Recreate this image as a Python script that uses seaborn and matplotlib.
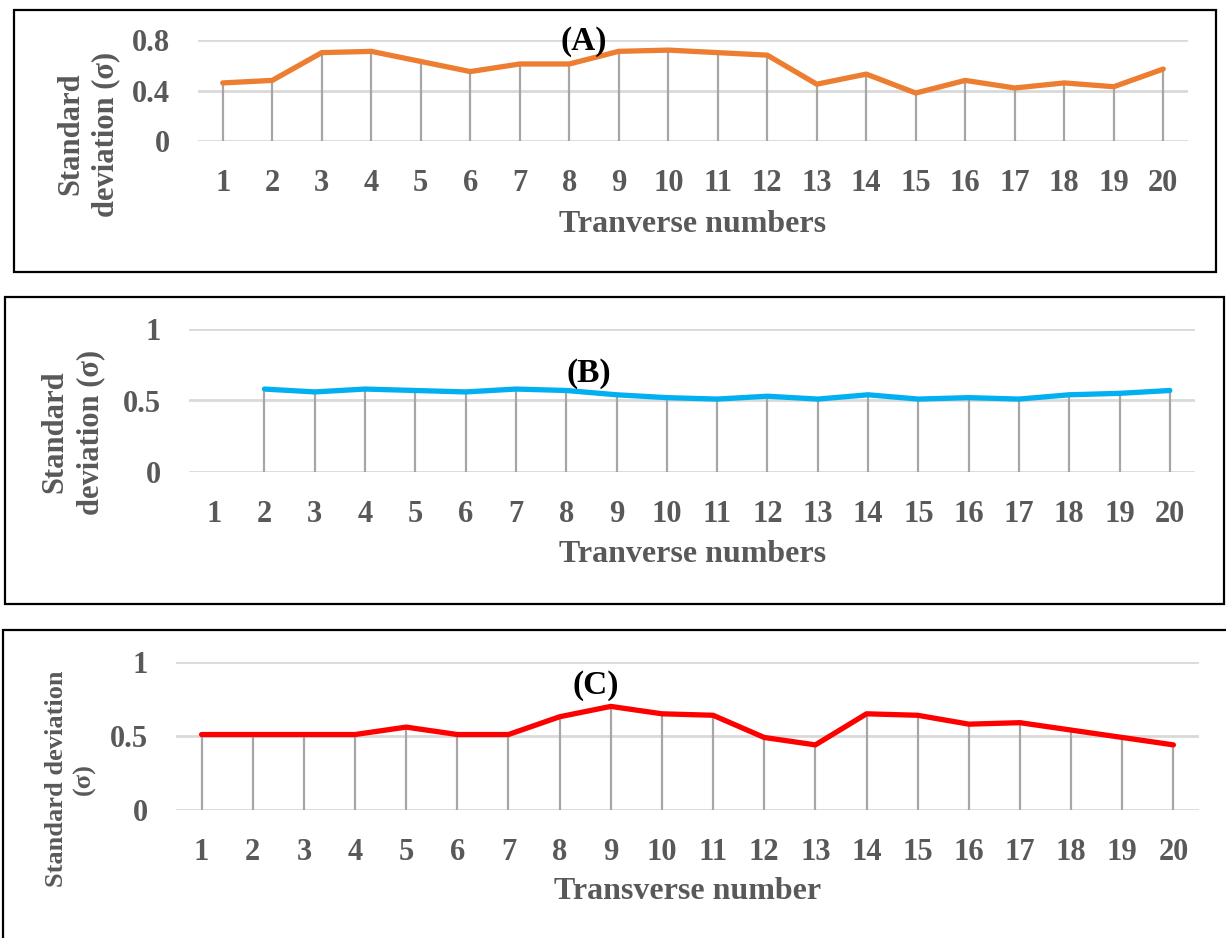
import numpy as np
import pandas as pd
import matplotlib
matplotlib.use("Agg")
import matplotlib.pyplot as plt
import seaborn as sns
from matplotlib.patches import Rectangle

""" DATA """

transects = list(range(1, 21))
sd_a = [0.46, 0.48, 0.70, 0.71, 0.63, 0.55, 0.61, 0.61, 0.71, 0.72,
        0.70, 0.68, 0.45, 0.53, 0.38, 0.48, 0.42, 0.46, 0.43, 0.57]
sd_b = [np.nan, 0.58, 0.56, 0.58, 0.57, 0.56, 0.58, 0.57, 0.54, 0.52,
        0.51, 0.53, 0.51, 0.54, 0.51, 0.52, 0.51, 0.54, 0.55, 0.57]
sd_c = [0.51, 0.51, 0.51, 0.51, 0.56, 0.51, 0.51, 0.63, 0.70, 0.65,
        0.64, 0.49, 0.44, 0.65, 0.64, 0.58, 0.59, 0.54, 0.49, 0.44]

yticks_a = [0, 0.4, 0.8]
ylabels_a = ['0', '0.4', '0.8']
yticks_bc = [0, 0.5, 1]
ylabels_bc = ['0', '0.5', '1']

""" STYLE """

sns.set_style("white")
plt.rcParams['font.family'] = ['Liberation Serif', 'DejaVu Serif']
plt.rcParams['font.weight'] = 'bold'
grey_txt = '#595959'
W, H = 1226, 938

fig = plt.figure(figsize=(W / 100, H / 100), dpi=100)


def px_axes(l, r, t, b):
    return fig.add_axes([l / W, 1 - b / H, (r - l) / W, (b - t) / H])


def panel(ax, vals, color, ylim, yticks, ylabels, tag, tag_xy):
    df = pd.DataFrame({'x': transects, 'y': vals})
    ax.vlines(df['x'], 0, df['y'], color='#A6A6A6', lw=1.6, zorder=2)
    sns.lineplot(data=df, x='x', y='y', ax=ax, color=color, lw=3.8,
                 zorder=3, solid_capstyle='round')
    ax.set_xlim(0.5, 20.5)
    ax.set_ylim(*ylim)
    ax.set_yticks(yticks)
    ax.set_yticklabels(ylabels)
    ax.set_xticks(transects)
    ax.set_xticklabels([str(t) for t in transects])
    ax.yaxis.grid(True, color='#D9D9D9', lw=2)
    ax.xaxis.grid(False)
    ax.set_axisbelow(True)
    for s in ax.spines.values():
        s.set_visible(False)
    ax.tick_params(axis='both', length=0, labelsize=22, labelcolor=grey_txt)
    ax.tick_params(axis='x', pad=20)
    ax.tick_params(axis='y', pad=20)
    for t in ax.get_xticklabels() + ax.get_yticklabels():
        t.set_fontweight('bold')
    ax.set_xlabel('')
    ax.set_ylabel('')
    ax.text(tag_xy[0], tag_xy[1], tag, ha='center', va='center',
            fontsize=24, fontweight='bold', color='black', zorder=4)


# boxes round each panel
for (l, t, r, b) in [(14, 10, 1216, 272), (5, 297, 1224, 604), (3, 630, 1240, 950)]:
    fig.patches.append(Rectangle((l / W, 1 - b / H), (r - l) / W, (b - t) / H,
                                 transform=fig.transFigure, fill=False,
                                 edgecolor='black', lw=1.6))

#panel A
ax1 = px_axes(198, 1188, 40, 141)
panel(ax1, sd_a, '#ED7D31', (0, 0.8), yticks_a, ylabels_a, '(A)', (8.3, 0.79))
fig.text(693 / W, 1 - 225 / H, 'Tranverse numbers', ha='center', va='center',
         fontsize=23, fontweight='bold', color=grey_txt)
fig.text(88 / W, 1 - 134 / H, 'Standard\ndeviation (σ)', ha='center', va='center',
         rotation=90, fontsize=22, fontweight='bold', color=grey_txt,
         linespacing=1.25, multialignment='center')

#panel B
ax2 = px_axes(189, 1195, 329, 472)
panel(ax2, sd_b, '#00B0F0', (0, 1), yticks_bc, ylabels_bc, '(B)', (8.45, 0.69))
fig.text(693 / W, 1 - 554 / H, 'Tranverse numbers', ha='center', va='center',
         fontsize=23, fontweight='bold', color=grey_txt)
fig.text(73 / W, 1 - 432 / H, 'Standard\ndeviation (σ)', ha='center', va='center',
         rotation=90, fontsize=22, fontweight='bold', color=grey_txt,
         linespacing=1.3, multialignment='center')

#panel C
ax3 = px_axes(176, 1199, 662, 810)
panel(ax3, sd_c, '#FF0000', (0, 1), yticks_bc, ylabels_bc, '(C)', (8.7, 0.84))
fig.text(688 / W, 1 - 891 / H, 'Transverse number', ha='center', va='center',
         fontsize=23, fontweight='bold', color=grey_txt)
fig.text(70 / W, 1 - 779 / H, 'Standard deviation\n(σ)', ha='center', va='center',
         rotation=90, fontsize=19, fontweight='bold', color=grey_txt,
         linespacing=1.25, multialignment='center')

fig.savefig('out.png', dpi=100)
